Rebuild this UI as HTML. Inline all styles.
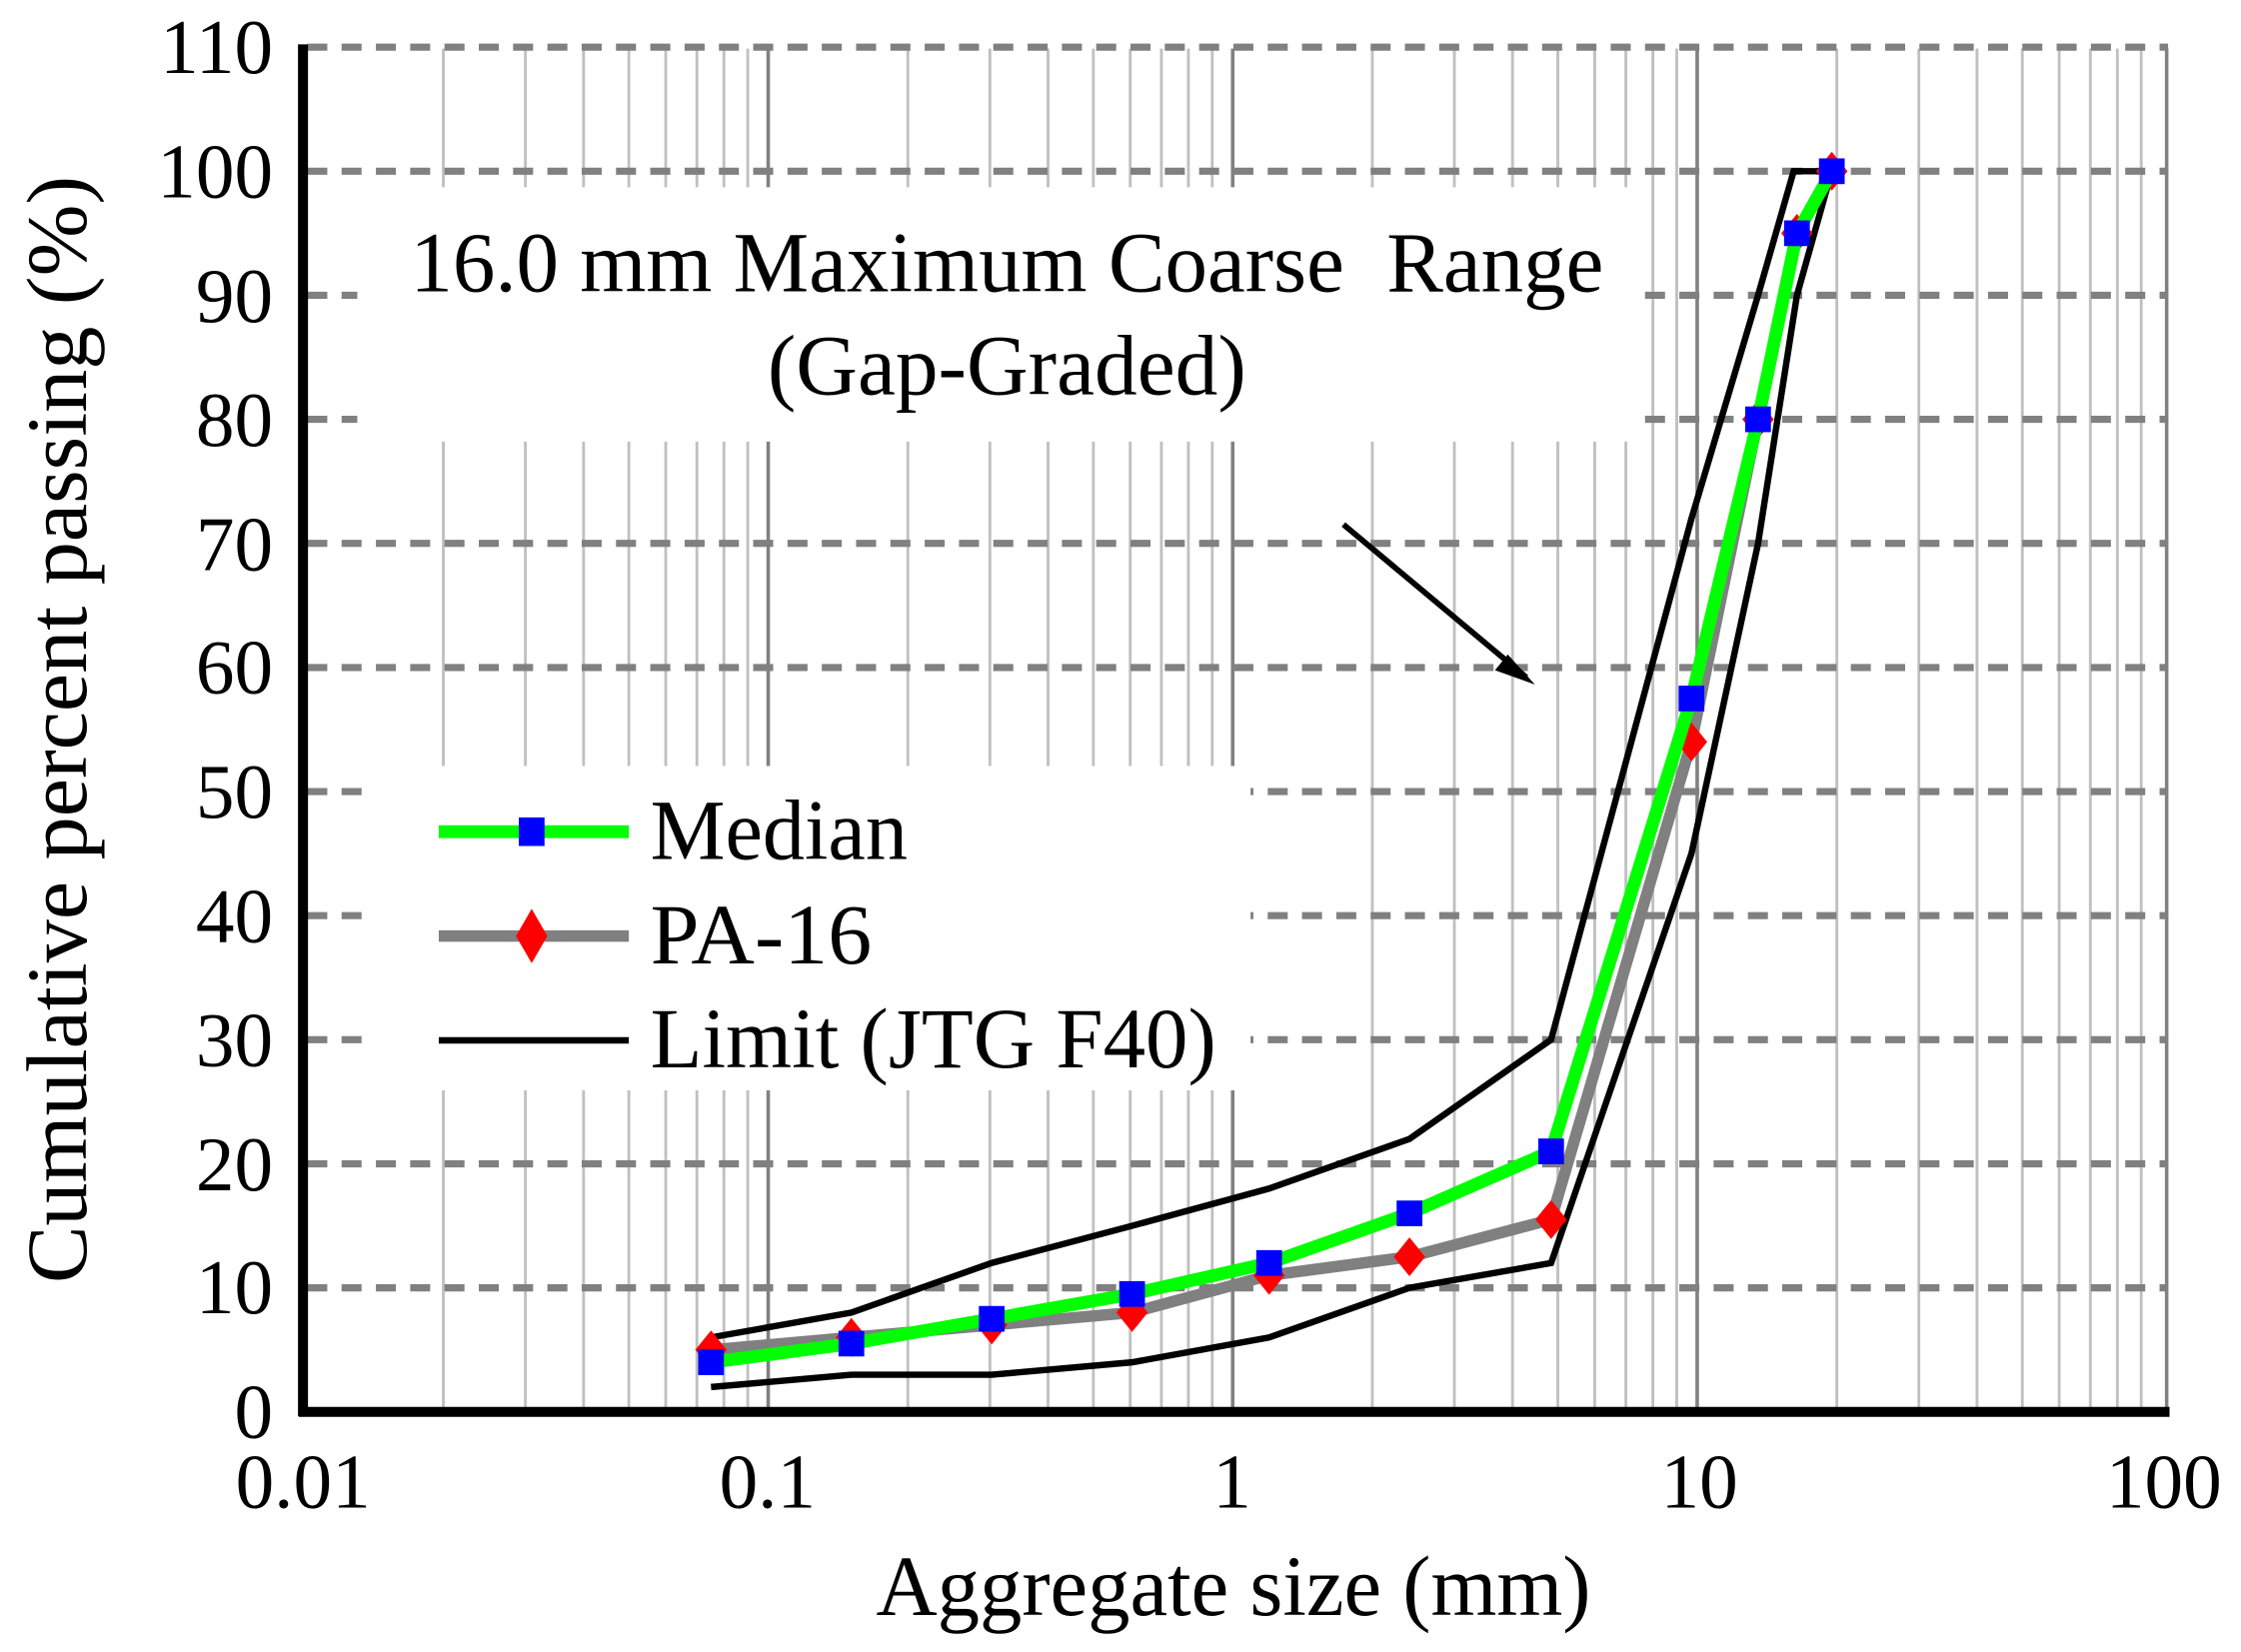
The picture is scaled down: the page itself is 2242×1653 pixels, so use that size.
<!DOCTYPE html>
<html><head><meta charset="utf-8"><style>
html,body{margin:0;padding:0;background:#fff;}
svg{display:block;}
text{font-family:"Liberation Serif",serif;fill:#000;}
</style></head><body>
<svg width="2242" height="1653" viewBox="0 0 1568 1156" xmlns="http://www.w3.org/2000/svg">
<rect width="1568" height="1156" fill="#fff"/>
<!-- vertical grid -->
<g stroke="#c0c0c0" stroke-width="2">
<path d="M310.2 34V985M367.6 34V985M408.3 34V985M440 34V985M465.8 34V985M487.6 34V985M506.5 34V985M523.2 34V985
M635.2 34V985M692.6 34V985M733.3 34V985M765 34V985M790.8 34V985M812.6 34V985M831.5 34V985M848.2 34V985
M960.2 34V985M1017.6 34V985M1058.3 34V985M1090 34V985M1115.8 34V985M1137.6 34V985M1156.5 34V985M1173.2 34V985
M1285.2 34V985M1342.6 34V985M1383.3 34V985M1415 34V985M1440.8 34V985M1462.6 34V985M1481.5 34V985M1498.2 34V985"/>
</g>
<g stroke="#808080" stroke-width="2.5">
<path d="M537.5 34V985M862.5 34V985M1187.5 34V985M1516 34V985"/>
</g>
<!-- horizontal dashed grid -->
<g stroke="#808080" stroke-width="5" stroke-dasharray="14,10">
<path d="M215 33.0H1517M215 119.8H1517M215 206.6H1517M215 293.4H1517M215 380.2H1517M215 467.1H1517M215 553.9H1517M215 640.7H1517M215 727.5H1517M215 814.4H1517M215 901.2H1517"/>
</g>
<!-- white boxes -->
<rect x="250" y="131" width="899" height="178" fill="#fff"/>
<rect x="262" y="536" width="613" height="227" fill="#fff"/>
<!-- axes -->
<path d="M212 31V991M209 988H1518" stroke="#000" stroke-width="7" fill="none"/>
<!-- limits -->
<polyline fill="none" stroke="#000" stroke-width="4.5" stroke-linejoin="miter" points="497.5,935.9 595.7,918.5 693.9,883.8 792.1,857.8 888,831.7 986.2,797 1085.3,727.5 1183.5,362.9 1230.1,206.6 1255,119.8 1281.7,119.8"/>
<polyline fill="none" stroke="#000" stroke-width="4.5" points="497.5,970.6 595.7,962 693.9,962 792.1,953.3 888,935.9 986.2,901.2 1085.3,883.8 1183.5,597.3 1230.1,380.3 1257.3,206.6 1281.7,119.8"/>
<!-- PA-16 -->
<polyline fill="none" stroke="#808080" stroke-width="8" points="497.5,944.6 595.7,935.9 693.9,927.2 792.1,918.5 888,892.5 986.2,879.5 1085.3,853.4 1183.5,519.2 1230.1,293.4 1257.3,163.2 1281.7,119.8"/>
<g fill="#ff0000">
<path d="M497.5 931l11 13.6-11 13.6-11-13.6z"/><path d="M595.7 922.3l11 13.6-11 13.6-11-13.6z"/><path d="M693.9 913.6l11 13.6-11 13.6-11-13.6z"/><path d="M792.1 904.9l11 13.6-11 13.6-11-13.6z"/><path d="M888 878.9l11 13.6-11 13.6-11-13.6z"/><path d="M986.2 865.9l11 13.6-11 13.6-11-13.6z"/><path d="M1085.3 839.8l11 13.6-11 13.6-11-13.6z"/><path d="M1183.5 505.6l11 13.6-11 13.6-11-13.6z"/><path d="M1230.1 279.8l11 13.6-11 13.6-11-13.6z"/><path d="M1257.3 149.6l11 13.6-11 13.6-11-13.6z"/><path d="M1281.7 106.2l11 13.6-11 13.6-11-13.6z"/>
</g>
<!-- Median -->
<polyline fill="none" stroke="#00ff00" stroke-width="9" points="497.5,953.3 595.7,940.2 693.9,922.9 792.1,905.5 888,883.8 986.2,849.1 1085.3,805.7 1183.5,488.8 1230.1,293.4 1257.3,163.2 1281.7,119.8"/>
<g fill="#0000ff">
<rect x="488.5" y="944.3" width="18" height="18"/><rect x="586.7" y="931.2" width="18" height="18"/><rect x="684.9" y="913.9" width="18" height="18"/><rect x="783.1" y="896.5" width="18" height="18"/><rect x="879" y="874.8" width="18" height="18"/><rect x="977.2" y="840.1" width="18" height="18"/><rect x="1076.3" y="796.7" width="18" height="18"/><rect x="1174.5" y="479.8" width="18" height="18"/><rect x="1221.1" y="284.4" width="18" height="18"/><rect x="1248.3" y="154.2" width="18" height="18"/><rect x="1272.7" y="110.8" width="18" height="18"/>
</g>
<!-- arrow -->
<line x1="940" y1="367" x2="1068" y2="474" stroke="#000" stroke-width="4"/>
<path d="M1074 479l-28-10 9-11z" fill="#000"/>
<!-- legend -->
<line x1="307" y1="582" x2="440" y2="582" stroke="#00ff00" stroke-width="9"/>
<rect x="363" y="572" width="18" height="20" fill="#0000ff"/>
<line x1="307" y1="655" x2="440" y2="655" stroke="#808080" stroke-width="8"/>
<path d="M372 636l11 19-11 19-11-19z" fill="#ff0000"/>
<line x1="307" y1="728" x2="440" y2="728" stroke="#000" stroke-width="4.5"/>
<text x="455" y="601" font-size="60" textLength="180" lengthAdjust="spacingAndGlyphs">Median</text>
<text x="455" y="674" font-size="60" textLength="155" lengthAdjust="spacingAndGlyphs">PA-16</text>
<text x="455" y="747" font-size="60" textLength="396" lengthAdjust="spacingAndGlyphs">Limit (JTG F40)</text>
<!-- title -->
<text x="287" y="204" font-size="60" textLength="835" lengthAdjust="spacingAndGlyphs" xml:space="preserve">16.0 mm Maximum Coarse  Range</text>
<text x="537" y="276" font-size="60" textLength="335" lengthAdjust="spacingAndGlyphs">(Gap-Graded)</text>
<!-- y ticks -->
<g font-size="54" text-anchor="end">
<text x="191" y="51">110</text><text x="191" y="138">100</text><text x="191" y="225">90</text><text x="191" y="312">80</text><text x="191" y="399">70</text><text x="191" y="485">60</text><text x="191" y="572">50</text><text x="191" y="659">40</text><text x="191" y="746">30</text><text x="191" y="833">20</text><text x="191" y="919">10</text><text x="191" y="1006">0</text>
</g>
<!-- x ticks -->
<g font-size="54" text-anchor="middle">
<text x="212" y="1055">0.01</text><text x="537" y="1055">0.1</text><text x="862" y="1055">1</text><text x="1189" y="1055">10</text><text x="1514" y="1055">100</text>
</g>
<text x="613" y="1130" font-size="60" textLength="500" lengthAdjust="spacingAndGlyphs">Aggregate size (mm)</text>
<text transform="translate(60,898) rotate(-90)" font-size="60" textLength="775" lengthAdjust="spacingAndGlyphs">Cumulative percent passing (%)</text>
</svg>
</body></html>
